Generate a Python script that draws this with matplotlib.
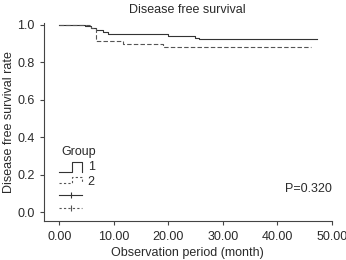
import numpy as np
import matplotlib
matplotlib.use("Agg")
import matplotlib.pyplot as plt

plt.rcParams['font.family'] = ['Liberation Sans', 'DejaVu Sans']

# Kaplan-Meier step data (time in months, survival rate)
group1_t = [0, 4.7, 5.9, 6.8, 8.0, 9.0, 20.0, 24.9, 25.7, 47.3]
group1_s = [1.0, 0.995, 0.985, 0.973, 0.963, 0.952, 0.943, 0.932, 0.922, 0.922]
group2_t = [0, 5.9, 6.8, 11.7, 19.0, 46.2]
group2_s = [1.0, 0.985, 0.913, 0.898, 0.880, 0.880]

x_ticks = [0, 10, 20, 30, 40, 50]
x_labels = ["0.00", "10.00", "20.00", "30.00", "40.00", "50.00"]
y_ticks = [0.0, 0.2, 0.4, 0.6, 0.8, 1.0]
p_text = "P=0.320"

txt = '#2a2a2a'
fs = 9
fig = plt.figure(figsize=(3.46, 2.6), dpi=100)
ax = fig.add_axes([43.5 / 346, 1 - 220.7 / 260, (332 - 43.5) / 346, (220.7 - 23) / 260])

ax.plot(group1_t, group1_s, drawstyle='steps-post', color='#333333', lw=0.8)
ax.plot(group2_t, group2_s, drawstyle='steps-post', color='#555555', lw=0.8,
        dashes=(4, 2))

ax.set_xlim(-2.9, 50)
ax.set_ylim(-0.045, 1.01)
ax.set_xticks(x_ticks)
ax.set_xticklabels(x_labels)
ax.set_yticks(y_ticks)
ax.set_yticklabels([f"{v:.1f}" for v in y_ticks])
for s in ['top', 'right']:
    ax.spines[s].set_visible(False)
for s in ['left', 'bottom']:
    ax.spines[s].set_color('#444444')
    ax.spines[s].set_linewidth(0.8)
ax.tick_params(direction='out', length=3, width=0.8, color='#444444',
               labelsize=fs, labelcolor=txt)
ax.tick_params(axis='x', pad=4.5)
ax.tick_params(axis='y', pad=3.2)

ax.set_title("Disease free survival", fontsize=fs, color=txt, pad=7.5)
ax.set_xlabel("Observation period (month)", fontsize=fs, color=txt, labelpad=2.5)
ax.set_ylabel("Disease free survival rate", fontsize=fs, color=txt, labelpad=2)

# hand-drawn legend like SPSS output
ax.text(0.3, 0.324, "Group", fontsize=fs, color=txt, va='center', ha='left')
ax.plot([-0.05, 2.38, 2.38, 4.21, 4.21], [0.217, 0.217, 0.266, 0.266, 0.217],
        color='#333333', lw=0.8, clip_on=False)
ax.text(5.2, 0.241, "1", fontsize=fs, color=txt, va='center')
ax.plot([-0.05, 2.38, 2.38, 4.21, 4.21], [0.155, 0.155, 0.19, 0.19, 0.155],
        color='#555555', lw=0.8, dashes=(2, 2), clip_on=False)
ax.text(5.2, 0.164, "2", fontsize=fs, color=txt, va='center')
ax.plot([-0.05, 4.21], [0.0925, 0.0925], color='#333333', lw=0.8)
ax.plot([2.08], [0.0925], marker='|', ms=4, color='#333333', mew=0.8)
ax.plot([-0.05, 4.21], [0.025, 0.025], color='#555555', lw=0.8, dashes=(2, 2))
ax.plot([2.08], [0.025], marker='|', ms=4, color='#555555', mew=0.8)

ax.text(50, 0.123, p_text, fontsize=fs, color=txt, ha='right', va='center')

fig.savefig("out.png", dpi=100)
